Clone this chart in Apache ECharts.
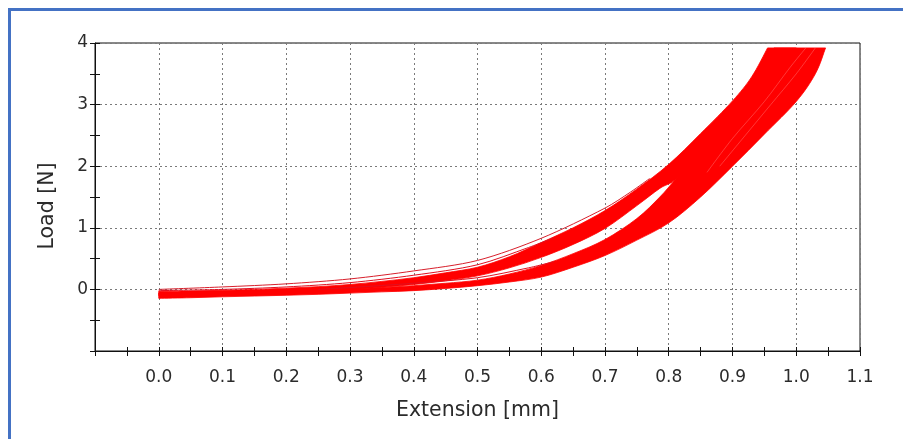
<!DOCTYPE html>
<html>
<head>
<meta charset="utf-8">
<title>Load vs Extension</title>
<script src="https://cdn.jsdelivr.net/npm/echarts@6/dist/echarts.min.js"></script>
<style>
  html, body { margin: 0; padding: 0; background: #ffffff; }
  #chart { width: 903px; height: 439px; }
</style>
</head>
<body>
<div id="chart"></div>
<script>
// Axis ranges and tick labels
const xRange = [-0.1, 1.1];
const yRange = [-1, 4];
const xTickLabels = ['0.0', '0.1', '0.2', '0.3', '0.4', '0.5', '0.6', '0.7', '0.8', '0.9', '1.0', '1.1'];
const yTickLabels = ['0', '1', '2', '3', '4'];

// Envelope of the early cycles (upper bundle), [extension mm, load N]
const upperBundleTop = [
  [0.00, -0.03], [0.05, -0.025], [0.10, -0.015], [0.15, 0.00], [0.20, 0.02],
  [0.25, 0.045], [0.30, 0.08], [0.35, 0.13], [0.40, 0.19], [0.45, 0.27],
  [0.50, 0.36], [0.55, 0.53], [0.60, 0.76], [0.65, 1.00], [0.70, 1.28],
  [0.75, 1.63], [0.80, 2.03], [0.85, 2.53], [0.90, 3.06], [0.93, 3.45], [0.955, 3.92]
];
const upperBundleBottom = [
  [0.00, -0.10], [0.05, -0.09], [0.10, -0.08], [0.15, -0.065], [0.20, -0.05],
  [0.25, -0.03], [0.30, 0.00], [0.35, 0.035], [0.40, 0.08], [0.45, 0.14],
  [0.50, 0.22], [0.55, 0.35], [0.60, 0.52], [0.65, 0.73], [0.70, 0.99],
  [0.75, 1.36], [0.786, 1.64], [0.81, 1.78], [0.85, 2.20], [0.90, 2.75],
  [0.95, 3.35], [1.00, 3.92]
];

// Envelope of the later cycles (lower bundle)
const lowerBundleTop = [
  [0.00, -0.06], [0.05, -0.055], [0.10, -0.05], [0.15, -0.04], [0.20, -0.03],
  [0.25, -0.01], [0.30, 0.01], [0.35, 0.03], [0.40, 0.06], [0.45, 0.10],
  [0.50, 0.15], [0.55, 0.25], [0.60, 0.39], [0.65, 0.58], [0.70, 0.81],
  [0.75, 1.15], [0.786, 1.50], [0.81, 1.78], [0.85, 2.25], [0.90, 2.85],
  [0.93, 3.30], [0.965, 3.92]
];
const lowerBundleBottom = [
  [0.00, -0.145], [0.05, -0.135], [0.10, -0.12], [0.15, -0.108], [0.20, -0.095],
  [0.25, -0.08], [0.30, -0.06], [0.35, -0.04], [0.40, -0.02], [0.45, 0.015],
  [0.50, 0.06], [0.55, 0.12], [0.60, 0.20], [0.65, 0.36], [0.70, 0.55],
  [0.75, 0.80], [0.80, 1.08], [0.85, 1.50], [0.90, 2.00], [0.95, 2.52],
  [1.00, 3.05], [1.03, 3.50], [1.046, 3.92]
];

// Individual curves running apart from the bundles
const firstCycle = [
  [0.00, 0.00], [0.10, 0.04], [0.20, 0.09], [0.30, 0.17], [0.40, 0.30],
  [0.50, 0.47], [0.60, 0.83], [0.70, 1.32], [0.74, 1.58], [0.77, 1.80]
];
const secondCycle = [
  [0.00, -0.02], [0.10, 0.00], [0.20, 0.04], [0.30, 0.11], [0.40, 0.23],
  [0.50, 0.40], [0.58, 0.68], [0.62, 0.84]
];
const thirdCycle = [
  [0.25, 0.00], [0.30, 0.03], [0.40, 0.10], [0.50, 0.19], [0.58, 0.35], [0.62, 0.45]
];

// Cycles showing through near the right flank of the later bundle
const laterCycleA = [[0.86, 1.90], [0.90, 2.45], [0.95, 3.05], [0.99, 3.60], [1.015, 3.92]];
const laterCycleB = [[0.88, 2.00], [0.92, 2.50], [0.96, 3.00], [1.00, 3.50], [1.03, 3.92]];

const RED = '#ff0000';

// Catmull-Rom pass through pixel points, returned as SVG cubic segments
function smoothSegments(px) {
  let d = '';
  for (let i = 0; i < px.length - 1; i++) {
    const p0 = px[Math.max(i - 1, 0)];
    const p1 = px[i];
    const p2 = px[i + 1];
    const p3 = px[Math.min(i + 2, px.length - 1)];
    const c1 = [p1[0] + (p2[0] - p0[0]) / 6, p1[1] + (p2[1] - p0[1]) / 6];
    const c2 = [p2[0] - (p3[0] - p1[0]) / 6, p2[1] - (p3[1] - p1[1]) / 6];
    d += ' C' + c1[0].toFixed(2) + ',' + c1[1].toFixed(2) + ' ' +
         c2[0].toFixed(2) + ',' + c2[1].toFixed(2) + ' ' +
         p2[0].toFixed(2) + ',' + p2[1].toFixed(2);
  }
  return d;
}

// A bundle of cycles drawn as one filled region between two envelopes
function bundleSeries(name, top, bottom) {
  return {
    name: name,
    type: 'custom',
    xAxisIndex: 0,
    yAxisIndex: 0,
    silent: true,
    data: [[0, 0]],
    renderItem: function (params, api) {
      const t = top.map(function (p) { return api.coord(p); });
      const b = bottom.slice().reverse().map(function (p) { return api.coord(p); });
      const d = 'M' + t[0][0].toFixed(2) + ',' + t[0][1].toFixed(2) + smoothSegments(t) +
        ' L' + b[0][0].toFixed(2) + ',' + b[0][1].toFixed(2) + smoothSegments(b) + ' Z';
      return {
        type: 'path',
        shape: { pathData: d },
        style: { fill: RED, stroke: RED, lineWidth: 0.8 }
      };
    },
    z: 3
  };
}

function curveSeries(name, pts, color, width) {
  return {
    name: name,
    type: 'line',
    xAxisIndex: 0,
    yAxisIndex: 0,
    data: pts,
    smooth: 0.3,
    symbol: 'none',
    silent: true,
    lineStyle: { color: color, width: width || 1 },
    z: 4
  };
}

const FONT = 'DejaVu Sans';
const TXT = '#2b2b2b';
const dotted = { color: '#7a7a7a', width: 1, type: [2, 3] };

function xLabel(v) {
  const i = Math.round(v / 0.1);
  return (v > -0.05 && i >= 0 && i < xTickLabels.length) ? xTickLabels[i] : '';
}
function yLabel(v) {
  const i = Math.round(v);
  return (v > -0.5 && i >= 0 && i < yTickLabels.length) ? yTickLabels[i] : '';
}

const chart = echarts.init(document.getElementById('chart'), null, { renderer: 'canvas' });
chart.setOption({
  animation: false,
  backgroundColor: '#ffffff',
  grid: {
    left: 95, top: 43, right: 43, bottom: 88,
    show: true, borderColor: '#111', borderWidth: 1, backgroundColor: 'transparent'
  },
  xAxis: [
    {
      type: 'value', min: xRange[0], max: xRange[1], interval: 0.1, position: 'bottom',
      name: 'Extension [mm]', nameLocation: 'middle', nameGap: 49,
      nameTextStyle: { fontFamily: FONT, fontSize: 20.5, color: TXT },
      axisLine: { show: true, onZero: false, lineStyle: { color: '#111', width: 1 } },
      axisTick: { show: false },
      axisLabel: { formatter: xLabel, fontFamily: FONT, fontSize: 17, color: TXT, margin: 18 },
      splitLine: { show: true, lineStyle: dotted }
    },
    {
      type: 'value', min: xRange[0], max: xRange[1], interval: 0.05, position: 'bottom',
      axisLine: { show: false, onZero: false },
      axisTick: { show: true, inside: false, length: 5, lineStyle: { color: '#111' } },
      axisLabel: { show: false }, splitLine: { show: false }
    },
    {
      type: 'value', min: xRange[0], max: xRange[1], interval: 0.05, position: 'bottom',
      axisLine: { show: false, onZero: false },
      axisTick: { show: true, inside: true, length: 4, lineStyle: { color: '#111' } },
      axisLabel: { show: false }, splitLine: { show: false }
    }
  ],
  yAxis: [
    {
      type: 'value', min: yRange[0], max: yRange[1], interval: 1, position: 'left',
      name: 'Load [N]', nameLocation: 'middle', nameGap: 37, nameRotate: 90,
      nameTextStyle: { fontFamily: FONT, fontSize: 20.5, color: TXT, padding: [0, 18, 0, 0] },
      axisLine: { show: true, onZero: false, lineStyle: { color: '#111', width: 1 } },
      axisTick: { show: false },
      axisLabel: { formatter: yLabel, fontFamily: FONT, fontSize: 17, color: TXT, margin: 7 },
      splitLine: { show: true, lineStyle: dotted }
    },
    {
      type: 'value', min: yRange[0], max: yRange[1], interval: 0.5, position: 'left',
      axisLine: { show: false, onZero: false },
      axisTick: { show: true, inside: false, length: 5, lineStyle: { color: '#111' } },
      axisLabel: { show: false }, splitLine: { show: false }
    },
    {
      type: 'value', min: yRange[0], max: yRange[1], interval: 0.5, position: 'left',
      axisLine: { show: false, onZero: false },
      axisTick: { show: true, inside: true, length: 5, lineStyle: { color: '#111' } },
      axisLabel: { show: false }, splitLine: { show: false }
    }
  ],
  graphic: [
    { type: 'rect', shape: { x: 8, y: 8, width: 895, height: 3 }, style: { fill: '#4472c4' }, silent: true },
    { type: 'rect', shape: { x: 8, y: 8, width: 3, height: 431 }, style: { fill: '#4472c4' }, silent: true }
  ],
  series: [
    bundleSeries('Later cycles', lowerBundleTop, lowerBundleBottom),
    bundleSeries('Early cycles', upperBundleTop, upperBundleBottom),
    curveSeries('Cycle 1', firstCycle, '#d8202c'),
    curveSeries('Cycle 2', secondCycle, '#e01020'),
    curveSeries('Cycle 3', thirdCycle, '#e01020'),
    curveSeries('Later cycle A', laterCycleA, 'rgba(255,170,170,0.55)', 0.6),
    curveSeries('Later cycle B', laterCycleB, 'rgba(255,170,170,0.55)', 0.6)
  ]
});
</script>
</body>
</html>
